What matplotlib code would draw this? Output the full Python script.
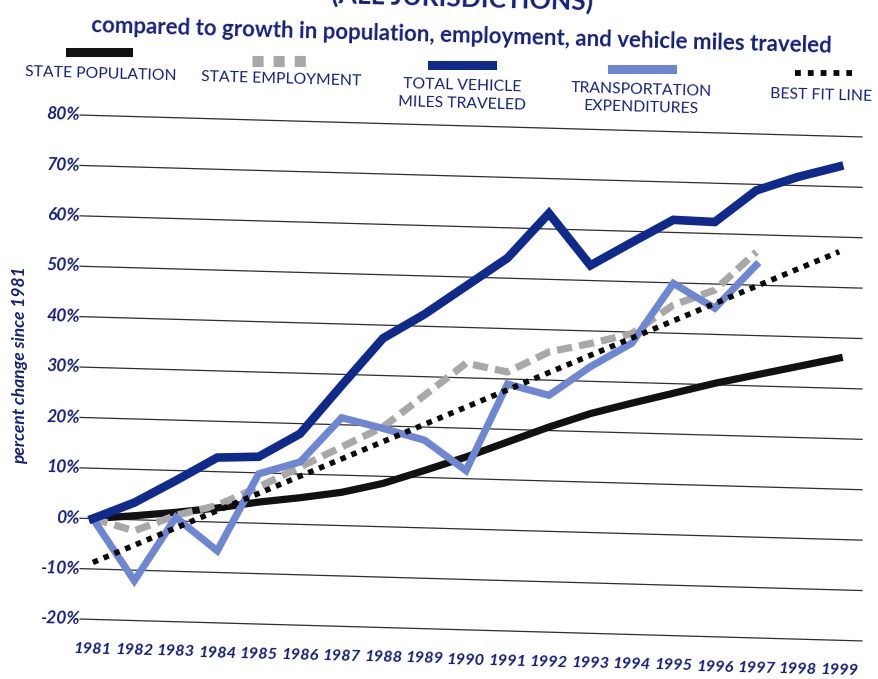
"""Growth in transportation expenditures vs population, employment and VMT."""

import matplotlib

matplotlib.use("Agg")
import matplotlib.pyplot as plt
import numpy as np
from matplotlib.lines import Line2D
from matplotlib.transforms import Affine2D

# --- data (percent change since 1981) ---
years = list(range(1981, 2000))
population = [0, 0.8, 1.7, 2.8, 4.2, 5.3, 6.6, 8.6, 11.4, 14.3, 17.5, 20.7,
              23.6, 25.9, 28.1, 30.3, 32.2, 34.1, 36.0]
employment_years = years[:17]
employment = [0, -2.2, 1.1, 3.3, 7.2, 11.4, 15.6, 19.8, 26.3, 32.9, 31.4,
              35.6, 37.5, 39.7, 45.6, 48.8, 56.6]
vmt = [0, 3.4, 8.0, 12.8, 13.2, 18.0, 27.8, 37.4, 42.4, 48.2, 54.0, 63.1,
       53.0, 57.8, 62.5, 62.3, 68.8, 71.7, 74.0]
expend_years = years[:17]
expenditures = [0, -12.1, 0.7, -5.7, 9.8, 12.4, 21.4, 19.5, 17.4, 11.6, 29.0,
                27.0, 32.9, 37.8, 49.9, 45.2, 54.0]
fit_years = [1981, 1999]
best_fit = [-8.7, 57.1]
y_ticks = list(range(-20, 90, 10))

NAVY = "#15207a"
C = {"pop": "#111111", "emp": "#a8a8a8", "vmt": "#102a8c",
     "exp": "#6f86d2", "fit": "#0a0a0a", "grid": "#2e2e2e"}
SLOPE = 0.028          # the scan is tilted slightly
TILT = -np.degrees(np.arctan(SLOPE))
W, H = 879, 679

plt.rcParams["font.family"] = ["Lato", "DejaVu Sans"]


def fxy(px, py):
    return px / W, 1 - py / H


fig = plt.figure(figsize=(W / 100, H / 100), dpi=100)
ax = fig.add_axes([80 / W, 1 - 619.4 / H, 782 / W, 504 / H])
ax.set_xlim(1980.69, 1999.55)
ax.set_ylim(-20, 80)
ax.axis("off")

x0 = ax.transData.transform((1981, 0))[0]
tilt = Affine2D(np.array([[1, 0, 0], [-SLOPE, 1, SLOPE * x0], [0, 0, 1]]))
tr = ax.transData + tilt

# grid lines + y labels
for v in y_ticks:
    ax.plot(ax.get_xlim(), [v, v], color=C["grid"], lw=0.9, transform=tr,
            clip_on=False, zorder=1)
    ax.text(ax.get_xlim()[0], v, f"{v}%", transform=tr, ha="right",
            va="center", fontsize=12.5, fontweight="bold", style="italic",
            color=NAVY, rotation=TILT, rotation_mode="anchor")

for yr in years:
    ax.text(yr, -26.0, str(yr), transform=tr, ha="center", va="center",
            fontsize=11.8, fontweight="bold", style="italic", color=NAVY,
            rotation=TILT, rotation_mode="anchor")

ax.plot(years, population, color=C["pop"], lw=5.2, transform=tr,
        clip_on=False, zorder=3, solid_joinstyle="miter")
ax.plot(employment_years, employment, color=C["emp"], lw=5.2,
        dashes=(2.1, 1.0), dash_capstyle="butt", transform=tr,
        clip_on=False, zorder=4)
ax.plot(expend_years, expenditures, color=C["exp"], lw=5.2, transform=tr,
        clip_on=False, zorder=5, solid_joinstyle="miter")
ax.plot(fit_years, best_fit, color=C["fit"], lw=4, dashes=(1, 1.1),
        dash_capstyle="butt", transform=tr, clip_on=False, zorder=6)
ax.plot(years, vmt, color=C["vmt"], lw=6.2, transform=tr, clip_on=False,
        zorder=7, solid_joinstyle="miter")

# titles (the top line is cut off by the page edge in the original)
fig.text(*fxy(462, 10), "(ALL JURISDICTIONS)", ha="center", va="baseline",
         fontsize=19, fontweight="bold", color=NAVY, rotation=TILT)
fig.text(*fxy(462, 36), "compared to growth in population, employment, "
         "and vehicle miles traveled", ha="center", va="center",
         fontsize=16, fontweight="bold", color=NAVY, rotation=TILT)

# legend
legend = [
    ("STATE POPULATION", (70, 128, 52), dict(color=C["pop"], lw=6.5),
     (101, 74)),
    ("STATE EMPLOYMENT", (252, 306, 61),
     dict(color=C["emp"], lw=8, dashes=(1, 0.9), dash_capstyle="butt"),
     (281, 79)),
    ("TOTAL VEHICLE\nMILES TRAVELED", (432, 492, 65),
     dict(color=C["vmt"], lw=6.5), (462, 95)),
    ("TRANSPORTATION\nEXPENDITURES", (612, 672, 69),
     dict(color=C["exp"], lw=6.5), (641, 99)),
    ("BEST FIT LINE", (795, 852, 73),
     dict(color=C["fit"], lw=4.2, dashes=(1, 1.2), dash_capstyle="butt"),
     (821, 95)),
]
for label, (xa, xb, ys), style, (tx, ty) in legend:
    (fa, ya), (fb, _) = fxy(xa, ys), fxy(xb, ys)
    fig.add_artist(Line2D([fa, fb], [ya, ya], transform=fig.transFigure,
                          **style))
    fig.text(*fxy(tx, ty), label, ha="center", va="center", fontsize=11.3,
             color=NAVY, linespacing=1.35, rotation=TILT)

fig.text(*fxy(20, 365), "percent change since 1981", rotation=90,
         ha="center", va="center", fontsize=12.5, fontweight="bold",
         style="italic", color=NAVY)

fig.savefig("out.png", dpi=100)
